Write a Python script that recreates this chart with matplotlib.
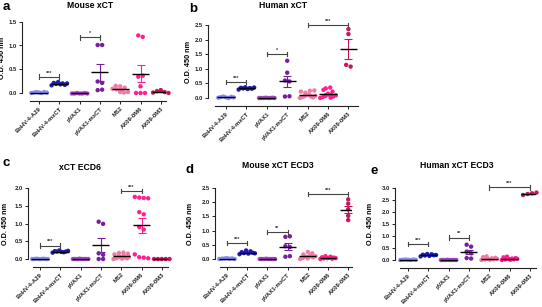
import numpy as np
import matplotlib
matplotlib.use('Agg')
import matplotlib.pyplot as plt

plt.rcParams['font.family'] = ['Liberation Sans', 'DejaVu Sans']

# group names and colours (same in all panels)
groups = ['BoHV-4-A29', 'BoHV-4-mxCT', 'pVAX1', 'pVAX1-mxCT', 'MS2', 'AX09-0M6', 'AX09-0M3']
colors = ['#8a8af5', '#1c1cb4', '#a844c4', '#7420a0', '#f47aa6', '#ff1f8e', '#c8145a']

# values (O.D. 450 nm)
a_vals = [
    [0.01, 0.02, 0.03, 0.02, 0.01, 0.03, 0.02],
    [0.17, 0.22, 0.20, 0.24, 0.19, 0.21, 0.18, 0.21],
    [0.00, 0.00, 0.01, 0.00, 0.00, 0.01, 0.00],
    [1.01, 1.01, 0.25, 0.22, 0.07, 0.08],
    [0.16, 0.15, 0.10, 0.09, 0.12, 0.03, 0.02, 0.03],
    [1.21, 1.18, 0.35, 0.37, 0.15, 0.01, 0.01, 0.01],
    [0.02, 0.05, 0.07, 0.03, 0.01],
]
b_vals = [
    [0.01, 0.03, 0.05, 0.02, 0.00, 0.04, 0.02],
    [0.29, 0.35, 0.33, 0.37, 0.31, 0.34, 0.32, 0.36],
    [0.00, 0.00, 0.00, 0.01, 0.00, 0.00, 0.01, 0.00],
    [1.28, 0.87, 0.60, 0.57, 0.05, 0.06],
    [0.00, 0.22, 0.03, 0.18, 0.06, 0.25, 0.10, 0.12, 0.05, 0.02, 0.08, 0.26],
    [0.00, 0.28, 0.03, 0.15, 0.07, 0.33, 0.12, 0.01, 0.22, 0.05, 0.09, 0.36],
    [2.37, 2.20, 1.14, 1.08],
]
c_vals = [
    [0.00, 0.00, 0.01, 0.00, 0.00, 0.01, 0.00, 0.00],
    [0.18, 0.22, 0.21, 0.24, 0.20, 0.19, 0.21, 0.23],
    [0.00, 0.00, 0.00, 0.01, 0.00, 0.00, 0.00, 0.00],
    [1.05, 0.99, 0.16, 0.12, 0.00, 0.00],
    [0.00, 0.13, 0.02, 0.17, 0.03, 0.08, 0.05, 0.18, 0.01, 0.10, 0.04, 0.15, 0.02, 0.06],
    [1.75, 1.73, 1.72, 1.71, 1.32, 1.26, 0.90, 0.83, 0.13, 0.05, 0.04, 0.02],
    [0.00, 0.00, 0.00, 0.00, 0.00],
]
d_vals = [
    [0.00, 0.01, 0.02, 0.03, 0.01, 0.02, 0.00],
    [0.17, 0.24, 0.21, 0.30, 0.19, 0.27, 0.22, 0.20],
    [0.00, 0.00, 0.00, 0.01, 0.00, 0.00, 0.00, 0.00],
    [0.78, 0.80, 0.45, 0.42, 0.08, 0.10],
    [0.00, 0.16, 0.04, 0.25, 0.08, 0.02, 0.13, 0.06, 0.20, 0.10],
    [0.00, 0.06, 0.02, 0.10, 0.03, 0.04, 0.08, 0.01, 0.05, 0.03],
    [2.10, 1.95, 1.75, 1.52, 1.37],
]
e_vals = [
    [0.00, 0.01, 0.02, 0.01, 0.00, 0.02, 0.01],
    [0.15, 0.22, 0.19, 0.25, 0.17, 0.24, 0.20, 0.21],
    [0.00, 0.00, 0.00, 0.01, 0.00, 0.00, 0.00, 0.00],
    [0.64, 0.56, 0.35, 0.28, 0.08, 0.06],
    [0.00, 0.12, 0.02, 0.15, 0.04, 0.01, 0.07, 0.03, 0.09, 0.05],
    [0.00, 0.11, 0.02, 0.14, 0.04, 0.01, 0.06, 0.03, 0.08, 0.05],
    [2.72, 2.76, 2.79, 2.82],
]

# significance brackets: (from group, to group, height, stars)
a_sig = [(0, 1, 0.35, '***'), (2, 3, 1.17, '*')]
b_sig = [(0, 1, 0.55, '***'), (2, 3, 1.52, '*'), (4, 6, 2.52, '***')]
c_sig = [(0, 1, 0.38, '***'), (4, 5, 1.92, '***')]
d_sig = [(0, 1, 0.56, '***'), (2, 3, 0.96, '**'), (4, 6, 2.29, '***')]
e_sig = [(0, 1, 0.68, '***'), (2, 3, 0.94, '**'), (4, 6, 3.04, '***')]

W, H = 542, 307
fig = plt.figure(figsize=(W / 100, H / 100), dpi=100)


def swarm(vals, binh, step=0.22, maxhw=0.38):
    # spread points that sit at about the same height side by side
    vals = np.asarray(vals, dtype=float)
    xs = np.zeros(len(vals))
    order = np.argsort(vals, kind='stable')
    clusters, cur = [], [order[0]]
    for k in order[1:]:
        if vals[k] - vals[cur[0]] < binh:
            cur.append(k)
        else:
            clusters.append(cur)
            cur = [k]
    clusters.append(cur)
    for cl in clusters:
        cl = sorted(cl)
        n = len(cl)
        if n > 1:
            hw = min(maxhw, step * (n - 1) / 2)
            xs[cl] = np.linspace(-hw, hw, n)
    return xs


def panel(vals, sig, ymax, ystep, yax, xstart, xend, g0, sp, xaxis_y, y0, ytop, labx):
    ax = fig.add_axes([yax / W, 1 - xaxis_y / H, (xend - yax) / W, (xaxis_y - ytop) / H])
    ppu = (y0 - ytop) / ymax
    ax.set_xlim((yax - g0) / sp, (xend - g0) / sp)
    ax.set_ylim(-(xaxis_y - y0) / ppu, ymax)
    for s in ['top', 'right']:
        ax.spines[s].set_visible(False)
    ax.spines['left'].set_bounds(0, ymax)
    ax.spines['bottom'].set_bounds((xstart - g0) / sp, (xend - g0) / sp)
    for s in ['left', 'bottom']:
        ax.spines[s].set_linewidth(0.8)
        ax.spines[s].set_color('#222222')

    binh = 4.0 / ppu
    for i, v in enumerate(vals):
        v = np.asarray(v)
        xs = i + swarm(v, binh)
        ax.scatter(xs, v, s=10, color=colors[i], edgecolors='none', zorder=3, clip_on=False)
        m = v.mean()
        se = v.std(ddof=1) / np.sqrt(len(v))
        ax.errorbar(i, m, yerr=se, color=colors[i], capsize=3, lw=0.8, capthick=0.8, zorder=4)
        ax.hlines(m, i - 0.42, i + 0.42, color='black', lw=1.0, zorder=5)

    d = 2.2 / ppu
    for i, j, y, st in sig:
        ax.plot([i, j], [y, y], color='#444444', lw=0.8, clip_on=False)
        for k in (i, j):
            ax.plot([k, k], [y - d, y + d], color='#444444', lw=0.8, clip_on=False)
        ax.text((i + j) / 2, y + 1.2 / ppu, st, ha='center', va='bottom', fontsize=4,
                color='#444444', fontweight='bold')

    ticks = np.arange(0, ymax + 1e-6, ystep)
    ax.set_yticks(ticks)
    ax.set_yticklabels(['%.1f' % t for t in ticks])
    ax.set_xticks(range(len(groups)))
    ax.set_xticklabels(groups, rotation=45, ha='right', rotation_mode='anchor')
    ax.tick_params(axis='both', labelsize=4.2, length=2.2, width=0.7, pad=1.5, colors='#222222')
    for lab in ax.get_xticklabels() + ax.get_yticklabels():
        lab.set_fontweight('bold')
    ax.set_ylabel('O.D. 450 nm', fontsize=5.2, fontweight='bold')
    ymid = (xaxis_y - (ytop + y0) / 2) / (xaxis_y - ytop)
    ax.yaxis.set_label_coords((labx - yax) / (xend - yax), ymid)
    return ax


panel(a_vals, a_sig, 1.5, 0.5, 22, 30, 166, 39, 20.3, 101, 93.5, 21.5, 6.5)
panel(b_vals, b_sig, 2.5, 0.5, 208, 215, 358, 226, 20.4, 106, 98, 25.3, 192)
panel(c_vals, c_sig, 2.0, 0.5, 28, 33, 168, 40, 20.3, 267, 259, 188, 9)
panel(d_vals, d_sig, 2.5, 0.5, 215, 220, 352, 227, 20.2, 267, 259, 188, 194)
panel(e_vals, e_sig, 3.0, 0.5, 395, 400, 536, 408, 20.3, 268, 260, 188.3, 374)

# titles and panel letters
titles = [('Mouse xCT', 90, 6), ('Human xCT', 283, 6), ('xCT ECD6', 80, 167),
          ('Mouse xCT ECD3', 278, 165), ('Human xCT ECD3', 457, 165)]
for t, x, y in titles:
    fig.text(x / W, 1 - y / H, t, ha='center', va='center', fontsize=6.2, fontweight='bold')
letters = [('a', 6, 7), ('b', 193, 9), ('c', 6, 163), ('d', 189, 170), ('e', 374, 171)]
for t, x, y in letters:
    fig.text(x / W, 1 - y / H, t, ha='center', va='center', fontsize=9.5, fontweight='bold')

fig.savefig('out.png', dpi=100)
